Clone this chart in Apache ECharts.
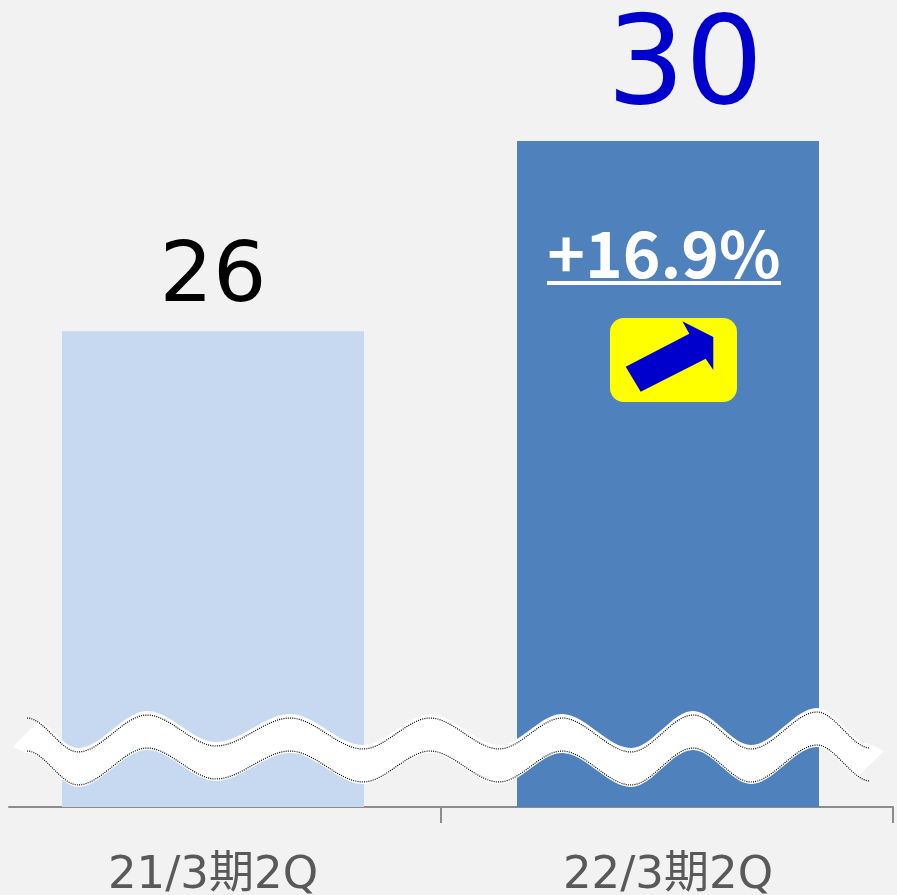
<!DOCTYPE html>
<html>
<head>
<meta charset="utf-8">
<style>
  html, body { margin: 0; padding: 0; background: #f2f2f2; }
  #chart { width: 897px; height: 895px; }
</style>
</head>
<body>
<div id="chart"></div>
<script src="https://cdn.jsdelivr.net/npm/echarts@6/dist/echarts.min.js"></script>
<script>
const categories = ['21/3期2Q', '22/3期2Q']
const values = [26, 30]
const changeLabel = '+16.9%'

const barColors = ['#c6d9f1', '#4f81bd']
const font = '"DejaVu Sans", "Noto Sans CJK JP", sans-serif'
const boldFont = '"Noto Sans CJK JP", "Noto Sans", sans-serif'

// axis break decoration, pixel outline of the wavy band
const waveTop = [[27, 718], [78, 752], [147, 715], [216, 746], [290, 718], [363, 749], [430, 718],
  [499, 749], [562, 718], [631, 752], [693, 715], [751, 749], [817, 712], [870, 748]]
const waveBottom = [[27, 751], [78, 785], [147, 748], [216, 779], [290, 751], [363, 782], [430, 751],
  [499, 782], [562, 751], [631, 785], [693, 748], [751, 782], [817, 745], [870, 781]]

// sample the wave between its extrema with flat tangents
function sampleWave(points, dy) {
  const out = []
  for (let i = 0; i < points.length - 1; i++) {
    const [x0, y0] = points[i]
    const [x1, y1] = points[i + 1]
    for (let k = 0; k < 24; k++) {
      const t = k / 24
      const s = t * t * (3 - 2 * t)
      out.push([x0 + (x1 - x0) * t, y0 + (y1 - y0) * s + dy])
    }
  }
  const last = points[points.length - 1]
  out.push([last[0], last[1] + dy])
  return out
}

function dotted(points) {
  return {
    type: 'polyline',
    z: 102,
    shape: { points: sampleWave(points, 0) },
    style: { stroke: '#000', lineWidth: 1.2, lineDash: [1, 1.2], fill: null }
  }
}

const bandTop = sampleWave(waveTop, -4).slice(6)
const bandBottom = sampleWave(waveBottom, 2).slice(0, -6)
const bandOutline = [[13, 747]].concat(bandTop, [[884, 751]], bandBottom.reverse())

const chart = echarts.init(document.getElementById('chart'))
chart.setOption({
  animation: false,
  backgroundColor: '#f2f2f2',
  grid: [
    { left: -14.5, width: 910, top: 141, bottom: 88, outerBoundsMode: 'none' },
    { left: 9, width: 884, top: 141, bottom: 88, outerBoundsMode: 'none' }
  ],
  xAxis: [{
    type: 'category',
    gridIndex: 0,
    data: categories,
    axisLine: { show: false },
    axisTick: { show: false },
    axisLabel: { color: '#595959', fontSize: 45, fontFamily: font, margin: 47, hideOverlap: false }
  }, {
    type: 'value',
    gridIndex: 1,
    min: 0,
    max: 884,
    splitLine: { show: false },
    axisLabel: { show: false },
    axisLine: { lineStyle: { color: '#8c8c8c', width: 2 } },
    axisTick: { customValues: [432, 884], length: 16, lineStyle: { color: '#8c8c8c', width: 2 } }
  }],
  yAxis: [{
    type: 'value',
    gridIndex: 0,
    min: 16,
    max: 30,
    show: false
  }, {
    type: 'value',
    gridIndex: 1,
    min: 16,
    max: 30,
    show: false
  }],
  series: [{
    type: 'bar',
    xAxisIndex: 0,
    yAxisIndex: 0,
    barWidth: 302,
    data: values.map((v, i) => ({
      value: v,
      itemStyle: { color: barColors[i] },
      label: i === 0
        ? { fontSize: 84, color: '#000', distance: 10 }
        : { fontSize: 123, color: '#0000cc', distance: 8, offset: [17, 0] }
    })),
    label: { show: true, position: 'top', fontFamily: font }
  }],
  graphic: [
    {
      type: 'text',
      z: 100,
      x: 664,
      y: 254,
      style: {
        text: changeLabel,
        fill: '#fff',
        font: 'bold 64px ' + boldFont,
        align: 'center',
        verticalAlign: 'middle'
      }
    },
    {
      type: 'rect',
      z: 100,
      shape: { x: 547, y: 281, width: 234, height: 4 },
      style: { fill: '#fff' }
    },
    {
      type: 'rect',
      z: 100,
      shape: { x: 610, y: 318, width: 127, height: 84, r: 14 },
      style: { fill: '#ffff00' }
    },
    {
      type: 'polygon',
      z: 101,
      shape: {
        points: [[625.7, 366.7], [689.3, 333.7], [682.3, 321.3], [713.3, 337], [713.3, 370], [705.7, 358.7], [640.7, 391.7]]
      },
      style: { fill: '#0000cc' }
    },
    {
      type: 'polygon',
      z: 101,
      shape: { points: bandOutline },
      style: { fill: '#fff' }
    },
    dotted(waveTop),
    dotted(waveBottom)
  ]
})
</script>
</body>
</html>
